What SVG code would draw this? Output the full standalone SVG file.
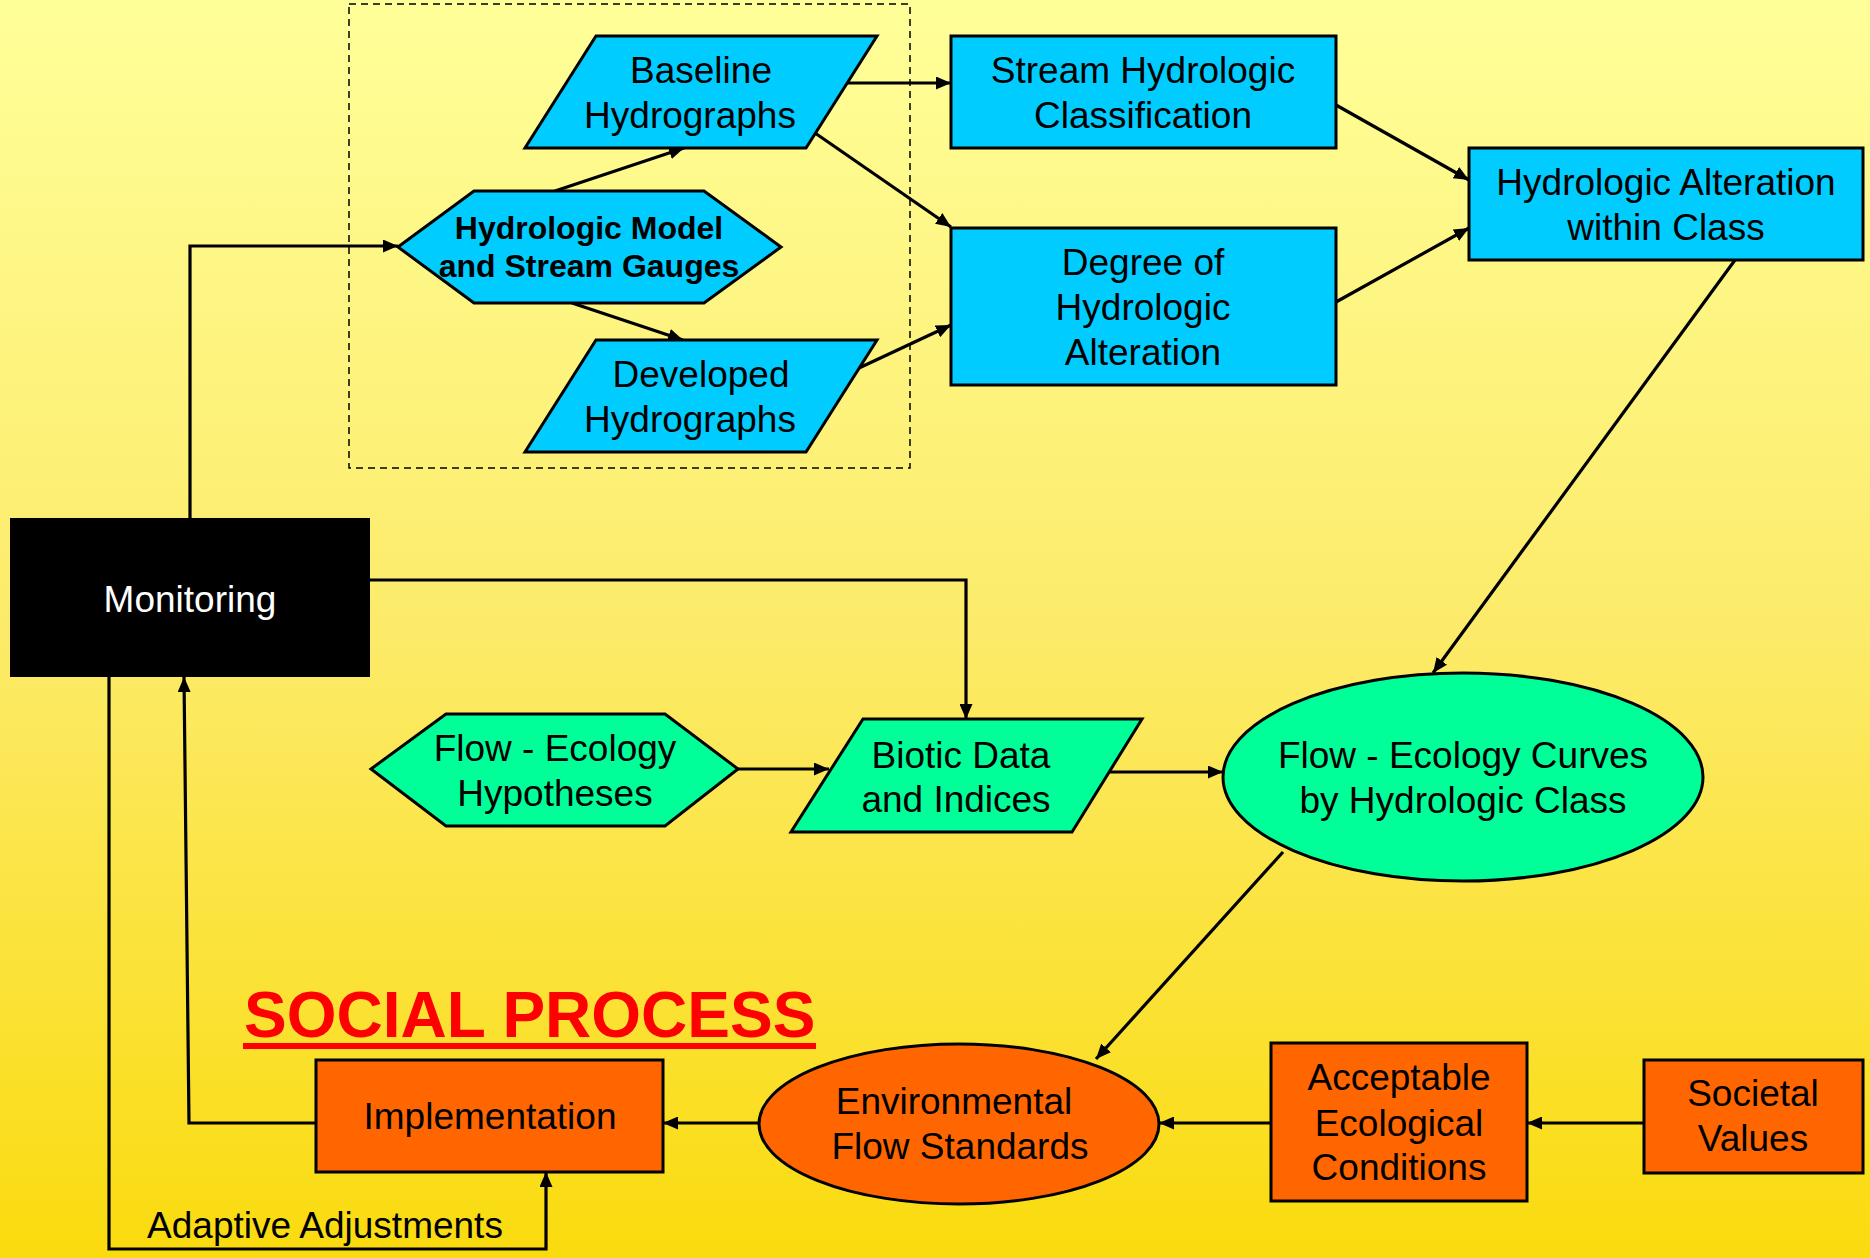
<svg xmlns="http://www.w3.org/2000/svg" width="1870" height="1258" viewBox="0 0 1870 1258">
<defs>
<linearGradient id="bg" x1="0" y1="0" x2="0" y2="1">
<stop offset="0" stop-color="#FFFF99"/>
<stop offset="0.5" stop-color="#FCEB6A"/>
<stop offset="1" stop-color="#FADB0E"/>
</linearGradient>
<marker id="ah" viewBox="0 0 15 13" refX="15" refY="6.5" markerWidth="15" markerHeight="13" markerUnits="userSpaceOnUse" orient="auto">
<path d="M0,0 L15,6.5 L0,13 z" fill="#000"/>
</marker>
<style>
.t{font-family:"Liberation Sans",Arial,Helvetica,sans-serif;font-size:37px;fill:#000;text-anchor:middle}
.b{font-weight:bold;font-size:32px}
.blue{fill:#00CCFF;stroke:#000;stroke-width:3}
.green{fill:#00FF99;stroke:#000;stroke-width:3}
.orange{fill:#FF6600;stroke:#000;stroke-width:3}
.ca{fill:none;stroke:#000;stroke-width:3.2;marker-end:url(#ah)}
</style>
</defs>
<rect x="0" y="0" width="1870" height="1258" fill="url(#bg)"/>
<rect id="group-box" x="349" y="4" width="561" height="464" fill="none" stroke="#000" stroke-width="1.5" stroke-dasharray="7,5"/>

<g id="connectors">
<path class="ca" d="M190,518 V246 H398"/>
<path class="ca" d="M555,191 L684,148"/>
<path class="ca" d="M572,303 L683,340"/>
<path class="ca" d="M847,83 H951"/>
<path class="ca" d="M815,133 L951,227"/>
<path class="ca" d="M859,368 L951,325"/>
<path class="ca" d="M1336,105 L1469,180"/>
<path class="ca" d="M1336,302 L1469,228"/>
<path class="ca" d="M1735,260 L1433,673"/>
<path class="ca" d="M370,580 H966 V719"/>
<path class="ca" d="M738,769 H829"/>
<path class="ca" d="M1109,772 H1223"/>
<path class="ca" d="M1283,852 L1096,1059"/>
<path class="ca" d="M1644,1123 H1527"/>
<path class="ca" d="M1271,1123 H1159"/>
<path class="ca" d="M758,1123 H663"/>
<path class="ca" d="M316,1123 H189 L184,677"/>
<path class="ca" d="M109,677 V1249 H546 V1172"/>
</g>

<g id="baseline-hydrographs">
<polygon class="blue" points="596,36 877,36 806,148 525,148"/>
<text class="t" x="701" y="83">Baseline</text>
<text class="t" x="690" y="128">Hydrographs</text>
</g>
<g id="hydrologic-model">
<polygon class="blue" points="398,247 474,191 704,191 781,247 704,303 474,303"/>
<text class="t b" x="589" y="239">Hydrologic Model</text>
<text class="t b" x="589" y="277">and Stream Gauges</text>
</g>
<g id="developed-hydrographs">
<polygon class="blue" points="596,340 877,340 806,452 525,452"/>
<text class="t" x="701" y="387">Developed</text>
<text class="t" x="690" y="432">Hydrographs</text>
</g>
<g id="stream-classification">
<rect class="blue" x="951" y="36" width="385" height="112"/>
<text class="t" x="1143" y="83">Stream Hydrologic</text>
<text class="t" x="1143" y="128">Classification</text>
</g>
<g id="degree-alteration">
<rect class="blue" x="951" y="228" width="385" height="157"/>
<text class="t" x="1143" y="275">Degree of</text>
<text class="t" x="1143" y="320">Hydrologic</text>
<text class="t" x="1143" y="365">Alteration</text>
</g>
<g id="alteration-within-class">
<rect class="blue" x="1469" y="148" width="394" height="112"/>
<text class="t" x="1666" y="195">Hydrologic Alteration</text>
<text class="t" x="1666" y="240">within Class</text>
</g>
<g id="monitoring">
<rect x="10" y="518" width="360" height="159" fill="#000"/>
<text class="t" x="190" y="612" style="fill:#fff">Monitoring</text>
</g>
<g id="flow-ecology-hypotheses">
<polygon class="green" points="371,769 446,714 665,714 738,769 665,826 446,826"/>
<text class="t" x="555" y="761">Flow - Ecology</text>
<text class="t" x="555" y="806">Hypotheses</text>
</g>
<g id="biotic-data">
<polygon class="green" points="863,719 1142,719 1072,832 791,832"/>
<text class="t" x="961" y="768">Biotic Data</text>
<text class="t" x="956" y="812">and Indices</text>
</g>
<g id="flow-ecology-curves">
<ellipse class="green" cx="1463" cy="777" rx="240" ry="104"/>
<text class="t" x="1463" y="768">Flow - Ecology Curves</text>
<text class="t" x="1463" y="813">by Hydrologic Class</text>
</g>
<g id="social-process-title">
<text x="244" y="1037" style="font-family:'Liberation Sans',Arial,sans-serif;font-weight:bold;font-size:64px;fill:#FF0000">SOCIAL PROCESS</text>
<rect x="243" y="1043" width="573" height="6" fill="#FF0000"/>
</g>
<g id="implementation">
<rect class="orange" x="316" y="1060" width="347" height="112"/>
<text class="t" x="490" y="1129">Implementation</text>
</g>
<g id="environmental-flow-standards">
<ellipse class="orange" cx="959" cy="1124" rx="200" ry="80"/>
<text class="t" x="954" y="1114">Environmental</text>
<text class="t" x="960" y="1159">Flow Standards</text>
</g>
<g id="acceptable-conditions">
<rect class="orange" x="1271" y="1043" width="256" height="158"/>
<text class="t" x="1399" y="1090">Acceptable</text>
<text class="t" x="1399" y="1136">Ecological</text>
<text class="t" x="1399" y="1180">Conditions</text>
</g>
<g id="societal-values">
<rect class="orange" x="1644" y="1060" width="219" height="113"/>
<text class="t" x="1753" y="1106">Societal</text>
<text class="t" x="1753" y="1151">Values</text>
</g>
<g id="adaptive-label">
<text class="t" x="325" y="1238">Adaptive Adjustments</text>
</g>
</svg>
